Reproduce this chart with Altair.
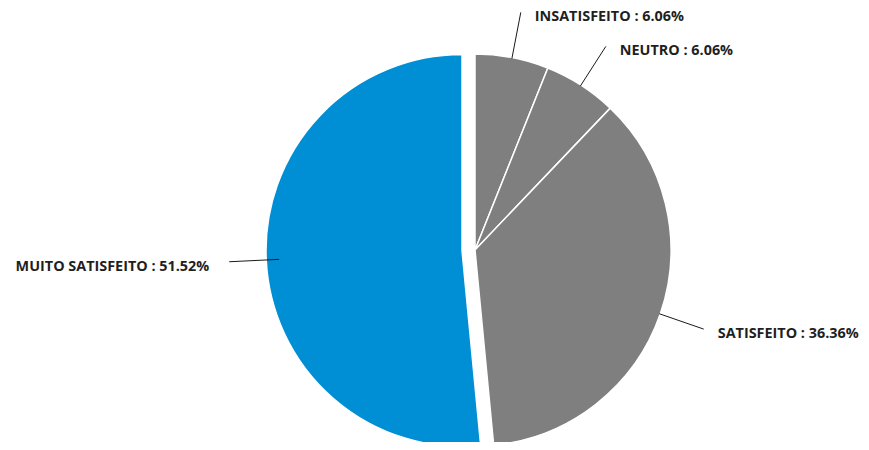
import altair as alt
import pandas as pd

# --- data ---
categorias = ["INSATISFEITO", "NEUTRO", "SATISFEITO", "MUITO SATISFEITO"]
valores = [6.06, 6.06, 36.36, 51.52]
destaque = [0, 0, 0, 1]
cores = ["#7F7F7F", "#7F7F7F", "#7F7F7F", "#008FD5"]

df = pd.DataFrame({
    "categoria": categorias,
    "valor": valores,
    "ordem": list(range(len(categorias))),
    "destaque": destaque,
    "cor": cores,
})

# layout parameters (pixels inside the chart)
CX, CY = 467, 242      # pie centre
R = 196                # pie radius
EXPLODE = 13           # offset of highlighted slice
R_LBL_R = 242          # radius where leader line ends (right side)
R_LBL_L = 233          # radius where leader line ends (left side)
GAP_R = 14             # gap between leader end and text (right side)
GAP_L = 20             # gap between leader end and text (left side)

base = alt.Chart(df).transform_joinaggregate(
    total="sum(valor)"
).transform_window(
    fim="sum(valor)", sort=[alt.SortField("ordem")], frame=[None, 0]
).transform_calculate(
    a0="2*PI*(datum.fim - datum.valor)/datum.total",
    a1="2*PI*datum.fim/datum.total",
).transform_calculate(
    mid="(datum.a0 + datum.a1)/2",
).transform_calculate(
    cx=f"{CX} + datum.destaque*{EXPLODE}*sin(datum.mid)",
    cy=f"{CY} - datum.destaque*{EXPLODE}*cos(datum.mid)",
    rl=f"sin(datum.mid) >= 0 ? {R_LBL_R} : {R_LBL_L}",
).transform_calculate(
    lx1=f"datum.cx + ({R} - 1 - datum.destaque*12)*sin(datum.mid)",
    ly1=f"datum.cy - ({R} - 1 - datum.destaque*12)*cos(datum.mid)",
    lx2="datum.cx + datum.rl*sin(datum.mid)",
    ly2="datum.cy - datum.rl*cos(datum.mid)",
    rotulo="datum.categoria + ' : ' + format(datum.valor, '.2f') + '%'",
).transform_calculate(
    tx=f"datum.lx2 + (sin(datum.mid) >= 0 ? {GAP_R} : -{GAP_L})",
    ty="datum.ly2 + 5",
)

arcs = base.mark_arc(stroke="white", strokeWidth=1.5).encode(
    x=alt.X("cx:Q", scale=None, axis=None),
    y=alt.Y("cy:Q", scale=None, axis=None),
    theta=alt.Theta("a0:Q", scale=None),
    theta2="a1:Q",
    radius=alt.value(R),
    color=alt.Color("cor:N", scale=None, legend=None),
)

leaders = base.mark_rule(color="#1a1a1a", strokeWidth=1).encode(
    x=alt.X("lx1:Q", scale=None, axis=None),
    y=alt.Y("ly1:Q", scale=None, axis=None),
    x2="lx2:Q",
    y2="ly2:Q",
)

text_style = dict(font="Open Sans", fontWeight="bold", fontSize=14.4,
                  color="#1f1f1f", baseline="middle")

labels_right = base.transform_filter("sin(datum.mid) >= 0").mark_text(
    align="left", **text_style
).encode(
    x=alt.X("tx:Q", scale=None, axis=None),
    y=alt.Y("ty:Q", scale=None, axis=None),
    text="rotulo:N",
)

labels_left = base.transform_filter("sin(datum.mid) < 0").mark_text(
    align="right", **text_style
).encode(
    x=alt.X("tx:Q", scale=None, axis=None),
    y=alt.Y("ty:Q", scale=None, axis=None),
    text="rotulo:N",
)

chart = alt.layer(arcs, leaders, labels_right, labels_left).properties(
    width=853, height=434, padding=0, autosize="none", background="white"
).configure_view(stroke=None)

chart.save("out.html", embed_options={"renderer": "svg", "actions": False})
